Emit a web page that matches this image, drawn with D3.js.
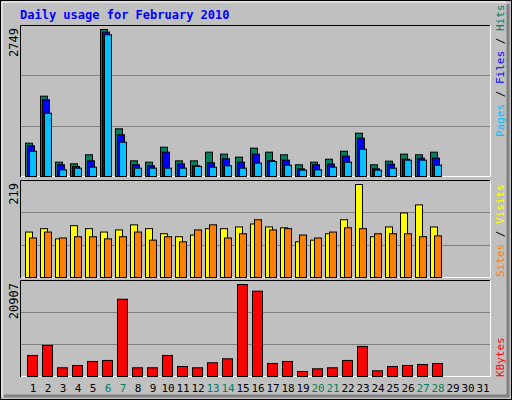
<!DOCTYPE html><html><head><script src="https://cdn.jsdelivr.net/npm/d3@7"></script>
<style>body{margin:0}</style></head><body><svg id="c" width="512" height="400"></svg>
<script>
const days=d3.range(1,32);
const weekends=[6,7,13,14,20,21,27,28];
const hits=[623,1502,268,237,406,2749,892,293,268,548,293,293,455,418,362,530,455,406,219,268,324,473,810,219,287,418,406,455];
const files=[574,1434,219,187,293,2700,780,219,200,455,237,200,256,331,268,418,300,306,143,219,231,381,717,143,231,324,343,343];
const pages=[473,1184,125,156,175,2650,642,156,156,156,156,190,175,200,156,250,280,212,119,125,175,268,511,119,156,306,306,212];
const visits=[107,115,91,122,115,107,112,124,115,103,96,100,115,115,119,126,119,117,84,88,103,136,219,96,119,152,171,119];
const sites=[93,107,93,96,96,91,96,107,88,96,84,112,124,93,103,136,112,115,100,93,107,117,115,103,103,103,96,98];
const kbytes=[4790,7070,1980,2510,3420,3650,17560,1980,1980,4790,2280,1980,3120,4030,20907,19390,2960,3420,1140,1750,1980,3650,6840,1290,2280,2510,2740,2960];
const svg=d3.select("#c");
const F="DejaVu Sans Mono, monospace";
svg.append("rect").attr("width",512).attr("height",400).attr("fill","#c0c0c0");
svg.append("rect").attr("x",0.5).attr("y",0.5).attr("width",511).attr("height",399).attr("fill","none").attr("stroke","#000");
svg.append("path").attr("d","M508,4V396H4").attr("fill","none").attr("stroke","#808080").attr("stroke-width",3);
svg.append("path").attr("d","M2,396V2H506").attr("fill","none").attr("stroke","#fff").attr("stroke-width",1);
svg.append("text").attr("x",20).attr("y",19).attr("font-family",F).attr("font-weight","bold").attr("font-size",12).attr("fill","#0000ff").text("Daily usage for February 2010");
const x=d3.scaleLinear().domain([1,31]).range([33,483]);
function panel(top,bot,max,label,right,rStart){
  const y=d3.scaleLinear().domain([0,max]).range([bot,top+4]);
  const g=svg.append("g");
  [1,2].forEach(i=>{const yy=Math.round(bot-(bot-top)*i/3)+0.5;
    g.append("line").attr("x1",21).attr("x2",490).attr("y1",yy).attr("y2",yy).attr("stroke","#808080")});
  g.append("path").attr("d",`M20.5,${bot+1}V${top+0.5}H490`).attr("fill","none").attr("stroke","#000");
  g.append("path").attr("d",`M21,${bot+0.5}H490.5V${top}`).attr("fill","none").attr("stroke","#fff");
  g.append("text").attr("transform",`translate(18,${top+3})rotate(-90)`).attr("text-anchor","end").attr("font-family",F).attr("font-size",12).text(label);
  let t=g.append("text").attr("transform",`translate(504,${rStart})rotate(-90)`).attr("text-anchor","start").attr("font-family",F).attr("font-size",11);
  right.forEach(([s,c],i)=>{t.append("tspan").attr("fill",c).text(s); if(i<right.length-1) t.append("tspan").attr("fill","#000").text(" / ");});
  return y;
}
function bars(data,y,off,w,col){
  svg.append("g").selectAll("rect").data(data).join("rect")
   .attr("x",(d,i)=>x(i+1)+off+0.5).attr("width",w).attr("y",d=>y(d)+0.5).attr("height",d=>y(0)-y(d))
   .attr("fill",col).attr("stroke","#000");
}
let y1=panel(25,176,2749,"2749",[["Pages","#00c0ff"],["Files","#0000ff"],["Hits","#00805c"]],137);
bars(hits,y1,-8,7,"#00805c");bars(files,y1,-6,7,"#0000ff");bars(pages,y1,-4,7,"#00c0ff");
let y2=panel(180,277,219,"219",[["Sites","#ff8000"],["Visits","#ffff00"]],277);
bars(visits,y2,-8,7,"#ffff00");bars(sites,y2,-4,7,"#ff8000");
let y3=panel(280,376,20907,"20907",[["KBytes","#ff0000"]],377);
bars(kbytes,y3,-6,10,"#ff0000");
svg.append("g").selectAll("text").data(days).join("text").attr("x",d=>x(d)).attr("y",392).attr("text-anchor","middle")
 .attr("font-family",F).attr("font-size",11).attr("fill",d=>weekends.includes(d)?"#00805c":"#000").text(d=>d);
</script></body></html>
